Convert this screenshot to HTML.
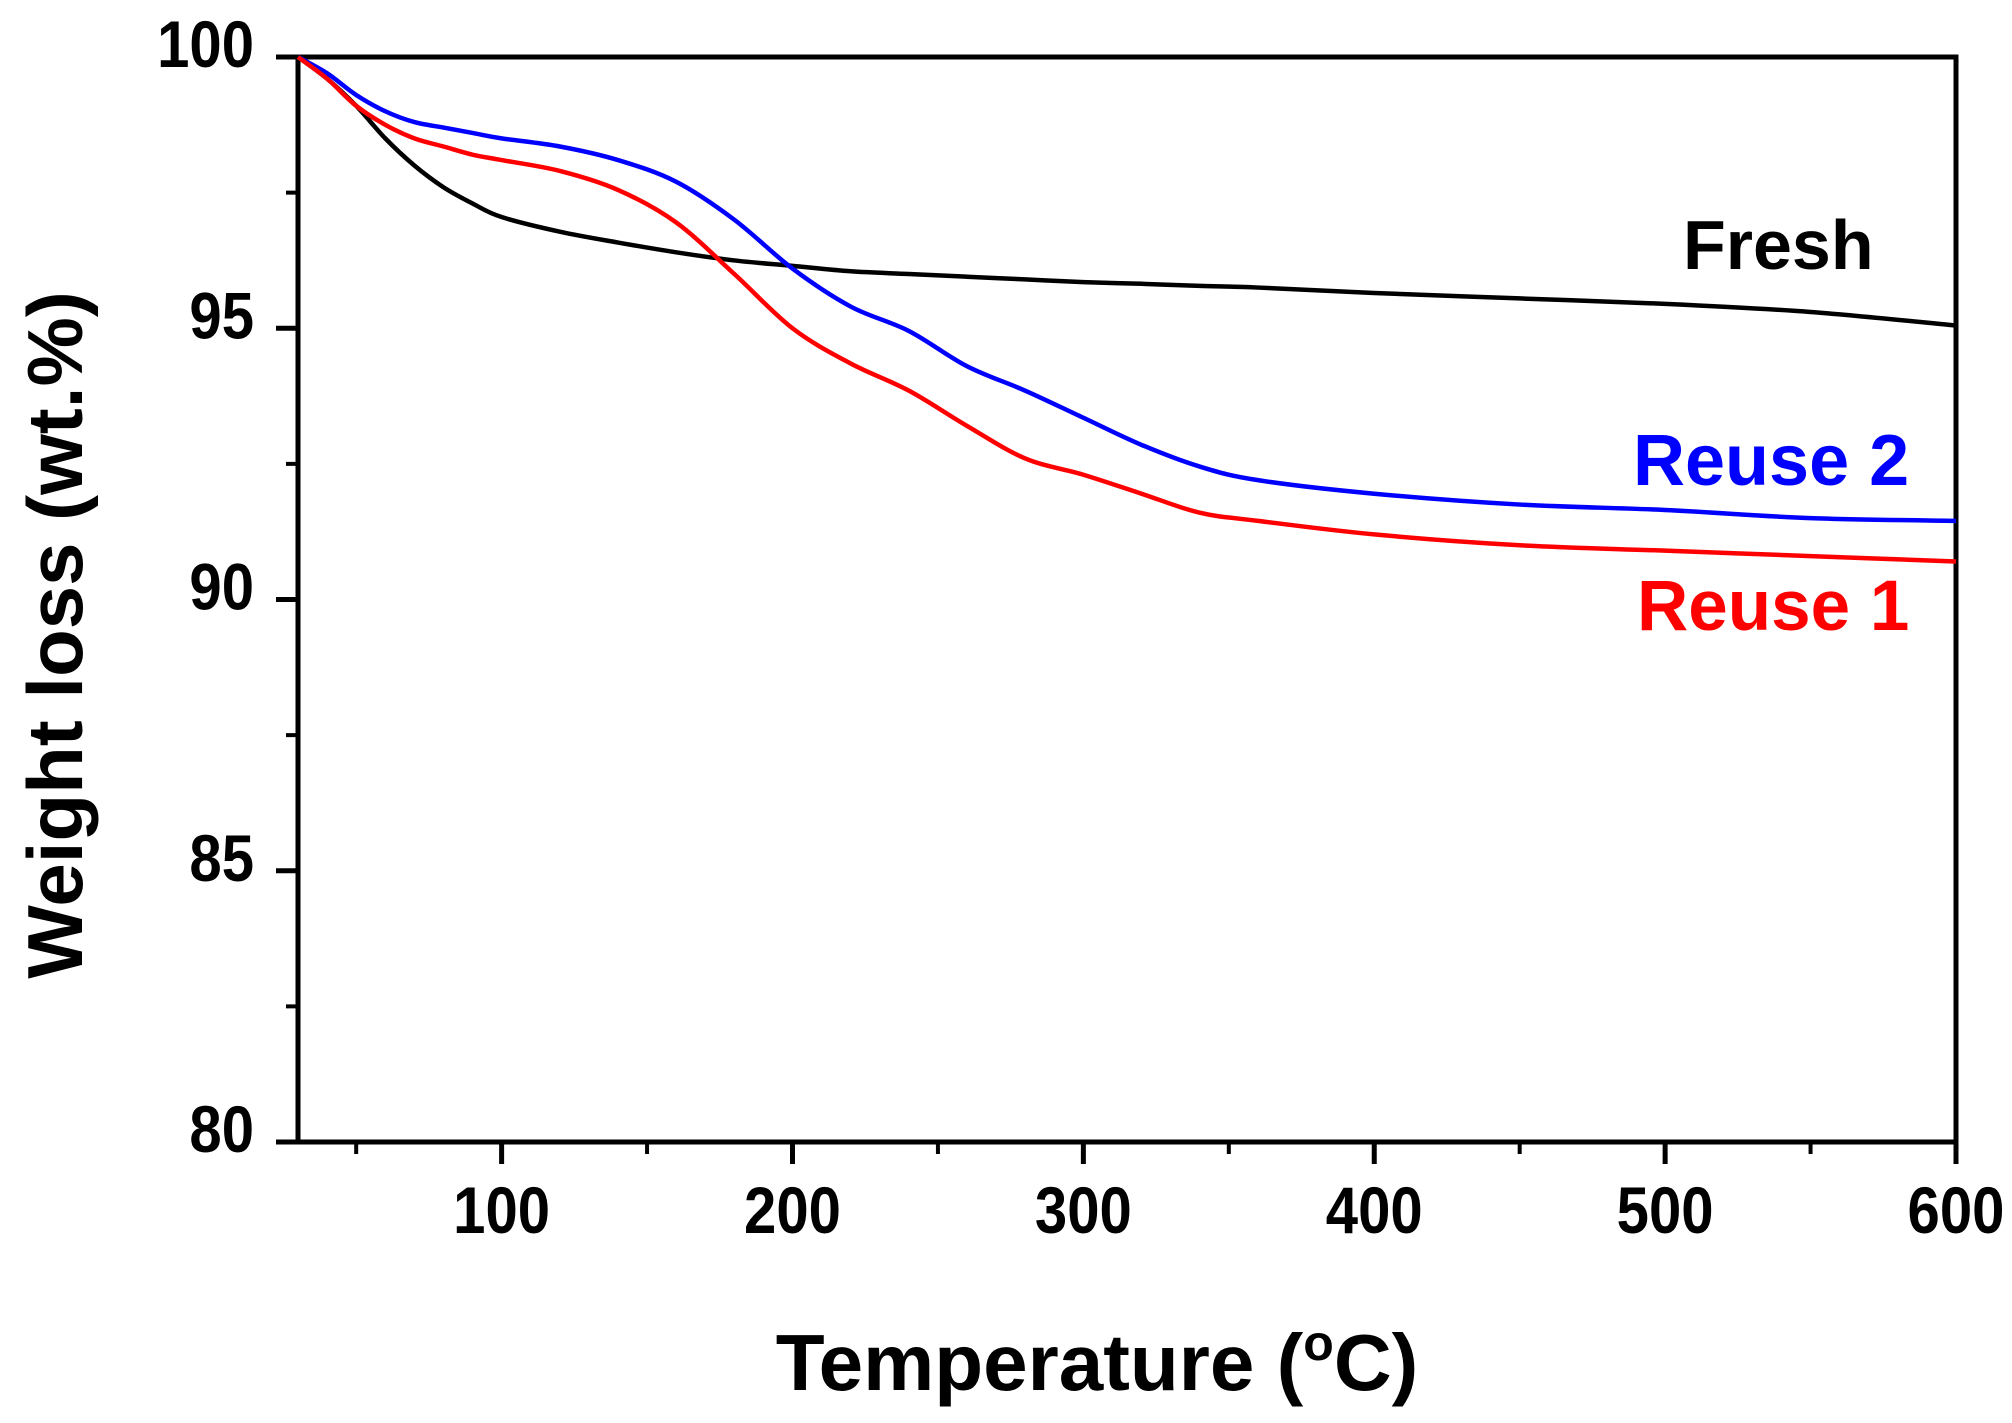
<!DOCTYPE html>
<html><head><meta charset="utf-8"><style>
html,body{margin:0;padding:0;background:#fff;}
svg{display:block;font-family:"Liberation Sans",Arial,sans-serif;font-weight:bold;}
</style></head><body>
<svg id="chart" width="2012" height="1423" viewBox="0 0 2012 1423" xmlns="http://www.w3.org/2000/svg">
<g id="axes"></g><g id="series"></g><g id="labels"></g>
</svg>
<script>
const temps = [30,40,50,60,70,80,90,100,120,140,160,180,200,220,240,260,280,300,320,340,360,400,450,500,550,600];
const fresh = [100,99.6,99.1,98.5,98.0,97.6,97.3,97.05,96.78,96.58,96.4,96.25,96.15,96.05,96.0,95.95,95.9,95.85,95.82,95.78,95.75,95.65,95.55,95.45,95.3,95.05];
const reuse2 = [100,99.7,99.3,99.0,98.8,98.7,98.6,98.5,98.35,98.1,97.7,97.0,96.1,95.4,94.95,94.3,93.85,93.35,92.85,92.45,92.2,91.95,91.75,91.65,91.5,91.45];
const reuse1 = [100,99.6,99.1,98.75,98.5,98.35,98.2,98.1,97.9,97.55,96.95,96.0,95.0,94.35,93.85,93.2,92.6,92.3,91.95,91.6,91.45,91.2,91.0,90.9,90.8,90.7];
const xTicks = [100,200,300,400,500,600];
const xMinor = [50,150,250,350,450,550];
const yTicks = [80,85,90,95,100];
const yMinor = [82.5,87.5,92.5,97.5];

const L=298,R=1956,T=57,B=1142;
const xs=v=>L+(v-30)/(600-30)*(R-L);
const ys=v=>B-(v-80)/(100-80)*(B-T);
const NS="http://www.w3.org/2000/svg";
function mk(tag,attrs,parent){const e=document.createElementNS(NS,tag);for(const k in attrs)e.setAttribute(k,attrs[k]);parent.appendChild(e);return e;}
const axes=document.getElementById('axes'),series=document.getElementById('series'),labels=document.getElementById('labels');

const frame=mk('rect',{x:L,y:T,width:R-L,height:B-T,fill:'none',stroke:'#000','stroke-width':5},axes);



xTicks.forEach(v=>{
  const t=mk('line',{x1:xs(v),x2:xs(v),y1:B,y2:B+22,stroke:'#000','stroke-width':5},axes);
  
  
  const tx=mk('text',{x:0,y:0,'text-anchor':'middle','font-size':66,transform:'translate('+xs(v)+',1233) scale(0.88,1)'},labels);
  tx.textContent=v;
  
  
});
xMinor.forEach(v=>{
  const t=mk('line',{x1:xs(v),x2:xs(v),y1:B,y2:B+12,stroke:'#000','stroke-width':4},axes);
  
  
});
yTicks.forEach(v=>{
  const t=mk('line',{x1:L-22,x2:L,y1:ys(v),y2:ys(v),stroke:'#000','stroke-width':5},axes);
  
  
  const tx=mk('text',{x:0,y:0,'text-anchor':'end','font-size':66,transform:'translate(254,'+(ys(v)+10)+') scale(0.88,1)'},labels);
  tx.textContent=v;
  
  
});
yMinor.forEach(v=>{
  const t=mk('line',{x1:L-12,x2:L,y1:ys(v),y2:ys(v),stroke:'#000','stroke-width':4},axes);
  
  
});

function pathFor(vals){
  const p=temps.map((t,i)=>[xs(t),ys(vals[i])]);
  let d='M'+p[0][0]+','+p[0][1];
  for(let i=0;i<p.length-1;i++){
    const p0=p[Math.max(0,i-1)],p1=p[i],p2=p[i+1],p3=p[Math.min(p.length-1,i+2)];
    const c1=[p1[0]+(p2[0]-p0[0])/6,p1[1]+(p2[1]-p0[1])/6];
    const c2=[p2[0]-(p3[0]-p1[0])/6,p2[1]-(p3[1]-p1[1])/6];
    d+=' C'+c1+' '+c2+' '+p2;
  }
  return d;
}
[['fresh',fresh,'#000'],['reuse-2',reuse2,'#0000ff'],['reuse-1',reuse1,'#ff0000']].forEach(s=>{
  const pth=mk('path',{d:pathFor(s[1]),fill:'none',stroke:s[2],'stroke-width':4.5,'stroke-linejoin':'round'},series);
  
  
});
</script>
<svg style="position:absolute;left:0;top:0" width="2012" height="1423" xmlns="http://www.w3.org/2000/svg" font-family="Liberation Sans, Arial, sans-serif" font-weight="bold">
<text x="1683" y="269" font-size="70" fill="#000">Fresh</text>
<text x="1633" y="485" font-size="72" fill="#0000ff">Reuse 2</text>
<text x="1637" y="630" font-size="71" fill="#ff0000">Reuse 1</text>
<text x="1097" y="1390" font-size="80" text-anchor="middle">Temperature (<tspan font-size="50" dy="-30">o</tspan><tspan dy="30">C)</tspan></text>
<text transform="translate(82,635) rotate(-90)" font-size="78" text-anchor="middle">Weight loss (wt.%)</text>
</svg>
</body></html>
